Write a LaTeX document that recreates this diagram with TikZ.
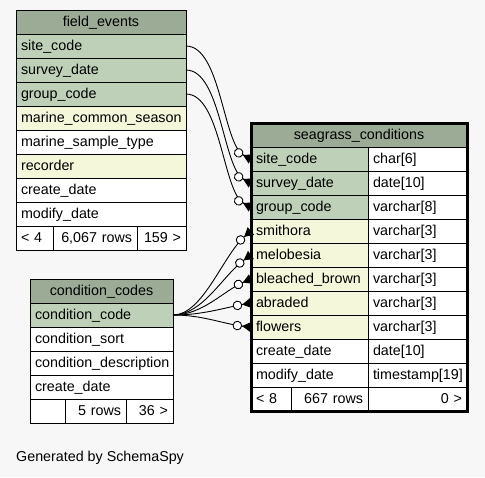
\documentclass[tikz,border=0pt]{standalone}
\usepackage{fontspec}
\setmainfont{Liberation Sans}
\usetikzlibrary{arrows.meta}
\definecolor{pagebg}{HTML}{F7F7F7}
\definecolor{headfill}{HTML}{9BAB96}
\definecolor{keyfill}{HTML}{BED1B8}
\definecolor{idxfill}{HTML}{F4F7DA}
\begin{document}
\begin{tikzpicture}[
            x=1pt,
            y=-1pt,
            font=\fontsize{14.3}{17}\selectfont,
            cell/.style={draw, line width=0.9pt, anchor=north west, minimum height=24pt, inner xsep=5pt, inner ysep=0pt, outer sep=0pt, text height=10pt, text depth=0.6pt, text width=#1pt, align=left, fill=white},
            head/.style={cell=#1, fill=headfill, align=center},
            link/.style={line width=0.9pt, -{Circle[length=9.5pt, width=9.5pt, fill=white, sep=0pt] Triangle[reversed, length=9pt, width=10pt]}}
        ]
        \fill[pagebg] (0,0) rectangle (485,477);
        % field_events
        \node[head=160] (fe-title) at (16,10) {field\_events};
        \foreach \y/\fillcolor/\name/\value in {
                34/keyfill/site/site\_code,
                58/keyfill/survey/survey\_date,
                82/keyfill/group/group\_code,
                106/idxfill/season/marine\_common\_season,
                130/white/type/marine\_sample\_type,
                154/idxfill/recorder/recorder,
                178/white/create/create\_date,
                202/white/modify/modify\_date
            } {
                \node[cell=160, fill=\fillcolor] (fe-\name) at (16,\y) {\value};
            }
        \node[cell=27] (fe-foot1) at (16,226) {< 4};
        \node[cell=74, align=right] (fe-foot2) at (53,226) {6,067 rows};
        \node[cell=39, align=right] (fe-foot3) at (137,226) {159 >};
        % condition_codes
        \node[head=133] (cc-title) at (30,279) {condition\_codes};
        \foreach \y/\fillcolor/\name/\value in {
                303/keyfill/code/condition\_code,
                327/white/sort/condition\_sort,
                351/white/desc/condition\_description,
                375/white/create/create\_date
            } {
                \node[cell=133, fill=\fillcolor] (cc-\name) at (30,\y) {\value};
            }
        \node[cell=25] (cc-foot1) at (30,399) {};
        \node[cell=51, align=right] (cc-foot2) at (65,399) {5 rows};
        \node[cell=37, align=right] (cc-foot3) at (126,399) {36 >};
        % seagrass_conditions
        \node[head=206] (sc-title) at (251,123) {seagrass\_conditions};
        \foreach \y/\fillcolor/\name/\value/\type in {
                147/keyfill/site/site\_code/char[6],
                171/keyfill/survey/survey\_date/date[10],
                195/keyfill/group/group\_code/varchar[8],
                219/idxfill/smithora/smithora/varchar[3],
                243/idxfill/melobesia/melobesia/varchar[3],
                267/idxfill/bleached/bleached\_brown/varchar[3],
                291/idxfill/abraded/abraded/varchar[3],
                315/idxfill/flowers/flowers/varchar[3],
                339/white/create/create\_date/date[10],
                363/white/modify/modify\_date/timestamp[19]
            } {
                \node[cell=107, fill=\fillcolor] (sc-\name) at (251,\y) {\value};
                \node[cell=89] (sc-\name-type) at (368,\y) {\type};
            }
        \node[cell=30] (sc-foot1) at (251,387) {< 8};
        \node[cell=67, align=right] (sc-foot2) at (291,387) {667 rows};
        \node[cell=89, align=right] (sc-foot3) at (368,387) {0 >};
        \draw[line width=3pt] (sc-title.north west) rectangle (sc-foot3.south east);
        % relations
        \foreach \name in {site, survey, group}
            \draw[link] (fe-\name.east) .. controls +(35,0) and +(-28,-14) .. (sc-\name.west);
        \foreach \name/\dy in {smithora/24, melobesia/20, bleached/12, abraded/5, flowers/-3}
            \draw[link] (cc-code.east) .. controls +(30,0) and +(-28,\dy) .. (sc-\name.west);
        \node[anchor=west, inner sep=0pt, text height=10pt, text depth=0.6pt] (credit) at (16,457) {Generated by SchemaSpy};
    \end{tikzpicture}
\end{document}
